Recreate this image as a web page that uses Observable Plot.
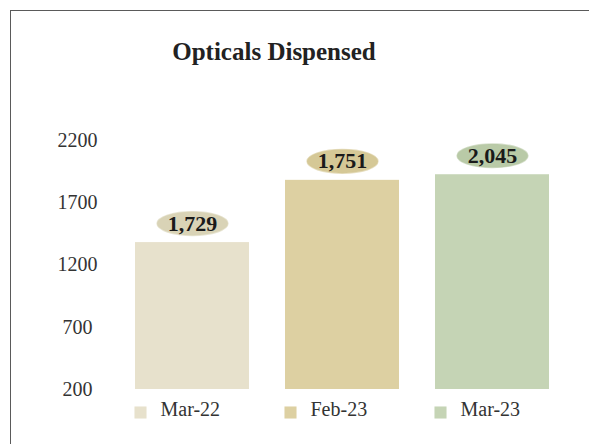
<!DOCTYPE html>
<html><head><meta charset="utf-8">
<script src="https://cdn.jsdelivr.net/npm/d3@7"></script>
<script src="https://cdn.jsdelivr.net/npm/@observablehq/plot@0.6"></script>
<style>
html,body{margin:0;padding:0;background:#fff;overflow:hidden;}
#wrap{position:relative;width:589px;height:444px;overflow:hidden;font-family:"Liberation Serif",serif;background:#fff;}
#frame{position:absolute;left:10px;top:10px;width:700px;height:600px;border-left:1.5px solid #5a5a5a;border-top:1.5px solid #5a5a5a;}
#title{position:absolute;top:2px;left:0;width:548px;height:100px;line-height:100px;text-align:center;font-weight:bold;font-size:25px;color:#222;}
#chart{position:absolute;top:100px;left:0;}
</style></head>
<body><div id="wrap"><div id="frame"></div><div id="title">Opticals Dispensed</div><div id="chart"></div></div>
<script>
const categories = ["Mar-22", "Feb-23", "Mar-23"];
const barValues = [1380, 1880, 1925];
const labelTexts = ["1,729", "1,751", "2,045"];
const barColors = ["#e7e1cc", "#ddd0a2", "#c5d4b5"];
const badgeColors = ["#d9d3b6", "#d5c896", "#b9caa7"];
const yTicks = [200, 700, 1200, 1700, 2200];

const data = categories.map((c, i) => ({cat: c, value: barValues[i], label: labelTexts[i], color: barColors[i], badge: badgeColors[i]}));

const ellipse = {
  draw(ctx, size) {
    const r = Math.sqrt(size / Math.PI);
    const rx = r * 3, ry = r, k = 0.5523;
    ctx.moveTo(rx, 0);
    ctx.bezierCurveTo(rx, ry * k, rx * k, ry, 0, ry);
    ctx.bezierCurveTo(-rx * k, ry, -rx, ry * k, -rx, 0);
    ctx.bezierCurveTo(-rx, -ry * k, -rx * k, -ry, 0, -ry);
    ctx.bezierCurveTo(rx * k, -ry, rx, -ry * k, rx, 0);
    ctx.closePath();
  }
};

const chart = Plot.plot({
  width: 589,
  height: 344,
  marginTop: 40,
  marginBottom: 55,
  marginLeft: 117,
  marginRight: 22,
  style: {fontFamily: '"Liberation Serif", serif', fontSize: "20px", background: "transparent", overflow: "visible"},
  x: {domain: categories, axis: null, paddingInner: 0.24, paddingOuter: 0.12},
  y: {domain: [yTicks[0], yTicks[yTicks.length - 1]], axis: null},
  color: {type: "identity"},
  marks: [
    Plot.axisY({ticks: yTicks, tickFormat: d => String(d), tickSize: 0, tickPadding: 40, textAnchor: "middle", fill: "#333", fontSize: 20, label: null}),
    Plot.barY(data, {x: "cat", y1: yTicks[0], y2: "value", fill: "color"}),
    Plot.dot(data, {x: "cat", y: "value", dy: -19, r: 11.8, symbol: ellipse, fill: "badge", stroke: "badge", strokeWidth: 1.5, strokeOpacity: 0.6}),
    Plot.text(data, {x: "cat", y: "value", dy: -19, text: "label", fontWeight: "bold", fontSize: 22, fill: "#1a1a1a"}),
    Plot.dot(data, {x: "cat", frameAnchor: "bottom", dy: 23, dx: -52, symbol: "square", r: 6.8, fill: "color"}),
    Plot.text(data, {x: "cat", frameAnchor: "bottom", dy: 26, dx: -32, text: "cat", textAnchor: "start", fontSize: 20, fill: "#333"})
  ]
});
document.getElementById("chart").appendChild(chart);
</script>
</body></html>
